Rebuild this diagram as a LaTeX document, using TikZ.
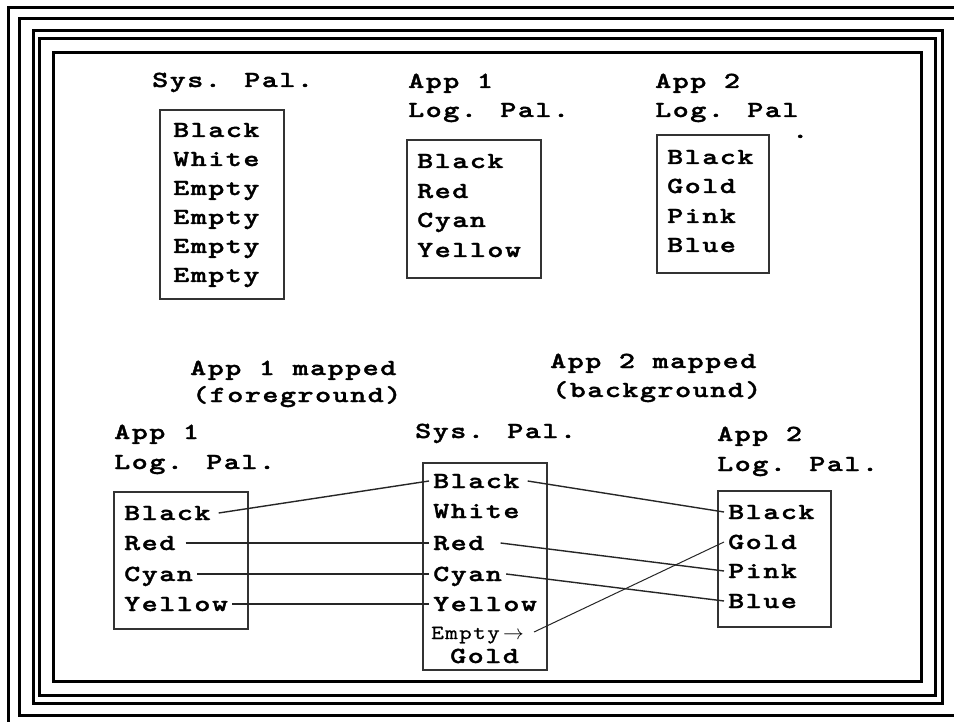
\documentclass[tikz,border=0pt]{standalone}
\usepackage{fontspec}
\newfontfamily\bmface[Extension=.otf,FakeStretch=1.33,LetterSpace=6.5,FakeBold=1.5]{lmmonolt10-bold}
\newfontfamily\smface[Extension=.otf,FakeStretch=1.2,LetterSpace=7,FakeBold=0.6]{lmmono10-regular}
\newcommand\bmfont{\bmface\fontsize{23}{23}\selectfont}
\newcommand\smfont{\smface\fontsize{20}{20}\selectfont}
\begin{document}
\begin{tikzpicture}[x=1pt,y=-1pt,
  frameline/.style={line width=3pt,black},
  palbox/.style={line width=1.6pt,black!80},
  link/.style={line width=1.4pt,black!85},
  lbl/.style={anchor=base west,inner sep=0pt,font=\bmfont},
  entry/.style={anchor=base west,inner xsep=4pt,inner ysep=0pt,text height=14pt,text depth=0pt,
    font=\bmfont},
  smentry/.style={anchor=base west,inner xsep=4pt,inner ysep=0pt,text height=14pt,text depth=0pt,
    font=\smfont}]
\useasboundingbox (0,0) rectangle (954,722);
\clip (0,0) rectangle (954,722);
\fill[white] (0,0) rectangle (954,722);

% nested frame lines
\draw[frameline] (970,8) -- (8,8) -- (8,740);
\draw[frameline] (970,19) -- (19,19) -- (19,715) -- (970,715);
\draw[frameline] (33,31) rectangle (942,703);
\draw[frameline] (39,39) rectangle (935,695);
\draw[frameline] (53,53) rectangle (921,681);

% ---- upper row: palettes before mapping ----
\node[lbl] (tsys) at (152,87) {Sys. Pal.};
\draw[palbox] (160,110) rectangle (284,299);
\node[entry] (ts1) at (169,137) {Black};
\node[entry] (ts2) at (169,166) {White};
\node[entry] (ts3) at (169,195) {Empty};
\node[entry] (ts4) at (169,224) {Empty};
\node[entry] (ts5) at (169,253) {Empty};
\node[entry] (ts6) at (169,282) {Empty};

\node[lbl] (ta1a) at (408,88) {App 1};
\node[lbl] (ta1b) at (408,117) {Log. Pal.};
\draw[palbox] (407,140) rectangle (541,278);
\node[entry] (ta11) at (413,168) {Black};
\node[entry] (ta12) at (413,198) {Red};
\node[entry] (ta13) at (413,227) {Cyan};
\node[entry] (ta14) at (413,257) {Yellow};

\node[lbl] (ta2a) at (655,88) {App 2};
\node[lbl] (ta2b) at (655,117) {Log. Pal};
\node[lbl] (tdot) at (792,138) {.};
\draw[palbox] (657,135) rectangle (769,273);
\node[entry] (ta21) at (663,164) {Black};
\node[entry] (ta22) at (663,193) {Gold};
\node[entry] (ta23) at (663,223) {Pink};
\node[entry] (ta24) at (663,252) {Blue};

% ---- lower row: mapped palettes ----
\node[lbl] (m1a) at (190,375) {App 1 mapped};
\node[lbl] (m1b) at (192,402) {(foreground)};
\node[lbl] (m2a) at (550,368) {App 2 mapped};
\node[lbl] (m2b) at (552,397) {(background)};

\node[lbl] (la) at (114,439) {App 1};
\node[lbl] (lb) at (114,469) {Log. Pal.};
\draw[palbox] (114,492) rectangle (248,629);
\node[entry] (l1) at (120,520) {Black};
\node[entry] (l2) at (120,550) {Red};
\node[entry] (l3) at (120,581) {Cyan};
\node[entry] (l4) at (120,611) {Yellow};

\node[lbl] (sa) at (415,438) {Sys. Pal.};
\draw[palbox] (423,463) rectangle (547,670);
\node[entry] (s1) at (429,488) {Black};
\node[entry] (s2) at (429,518) {White};
\node[entry] (s3) at (429,550) {Red};
\node[entry] (s4) at (429,581) {Cyan};
\node[entry] (s5) at (429,611) {Yellow};
\node[smentry] (s6) at (427,639) {Empty\,$\rightarrow$};
\node[entry] (s7) at (446,663) {Gold};

\node[lbl] (ra) at (717,441) {App 2};
\node[lbl] (rb) at (717,471) {Log. Pal.};
\draw[palbox] (718,491) rectangle (831,627);
\node[entry] (r1) at (724,519) {Black};
\node[entry] (r2) at (724,549) {Gold};
\node[entry] (r3) at (724,578) {Pink};
\node[entry] (r4) at (724,608) {Blue};

% App 1 entries to system palette (foreground)
\draw[link] ([xshift=4pt]l1.east) -- (s1.west);
\draw[link] ([xshift=6pt]l2.east) -- (s3.west);
\draw[link] (l3.east) -- (s4.west);
\draw[link] (l4.east) -- (s5.west);

% system palette to App 2 entries (background)
\draw[link] ([xshift=4pt]s1.east) -- (r1.west);
\draw[link] ([xshift=12pt]s3.east) -- (r3.west);
\draw[link] (s4.east) -- (r4.west);
\draw[link,line width=1pt] ([xshift=6pt]s6.east) -- (r2.west);
\end{tikzpicture}
\end{document}
